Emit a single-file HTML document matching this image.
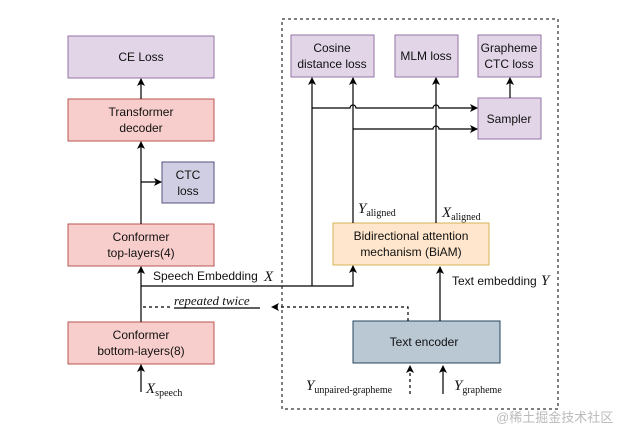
<!DOCTYPE html>
<html><head><meta charset="utf-8"><style>
body{margin:0;background:#fff}
svg{display:block}
text{font-family:"Liberation Sans",sans-serif;font-size:12px;fill:#111}
.m{font-family:"Liberation Serif",serif;font-style:italic;font-size:15px}
.s{font-family:"Liberation Serif",serif;font-style:normal;font-size:10px}
</style></head><body>
<svg width="627" height="438" viewBox="0 0 627 438" xmlns="http://www.w3.org/2000/svg">
<defs><marker id="a" markerWidth="8" markerHeight="8" refX="7" refY="4" orient="auto" markerUnits="userSpaceOnUse"><path d="M0,0 L8,4 L0,8 L2,4 Z" fill="#000"/></marker></defs>
<rect x="282" y="19" width="276" height="390" fill="none" stroke="#000" stroke-dasharray="3,3"/>
<g stroke-width="1">
<rect x="68" y="36" width="146" height="42" fill="#e1d5e7" stroke="#9673a6"/>
<rect x="68" y="99" width="146" height="42" fill="#f8cecc" stroke="#b85450"/>
<rect x="162" y="162" width="52" height="41" fill="#d0cee2" stroke="#56517e"/>
<rect x="68" y="224" width="146" height="42" fill="#f8cecc" stroke="#b85450"/>
<rect x="68" y="322" width="146" height="42" fill="#f8cecc" stroke="#b85450"/>
<rect x="291" y="35" width="83" height="42" fill="#e1d5e7" stroke="#9673a6"/>
<rect x="395" y="35" width="63" height="42" fill="#e1d5e7" stroke="#9673a6"/>
<rect x="478" y="35" width="63" height="42" fill="#e1d5e7" stroke="#9673a6"/>
<rect x="478" y="98" width="63" height="41" fill="#e1d5e7" stroke="#9673a6"/>
<rect x="333" y="223" width="156" height="42" fill="#ffe6cc" stroke="#d6b656"/>
<rect x="353" y="321" width="147" height="42" fill="#bac8d3" stroke="#23445d"/>
</g>
<g fill="none" stroke="#000" stroke-width="1.2">
<path d="M141,99 V79" marker-end="url(#a)"/>
<path d="M141,224 V142" marker-end="url(#a)"/>
<path d="M141,182 H161" marker-end="url(#a)"/>
<path d="M141,322 V267" marker-end="url(#a)"/>
<path d="M141,392 V365" marker-end="url(#a)"/>
<path d="M141,286 H353 V266" marker-end="url(#a)"/>
<path d="M312,286 V78" marker-end="url(#a)"/>
<path d="M353,223 V78" marker-end="url(#a)"/>
<path d="M436,223 V78" marker-end="url(#a)"/>
<path d="M312,108 H350 a3,3 0 0 1 6,0 H433 a3,3 0 0 1 6,0 H477" marker-end="url(#a)"/>
<path d="M353,129 H433 a3,3 0 0 1 6,0 H477" marker-end="url(#a)"/>
<path d="M510,98 V78" marker-end="url(#a)"/>
<path d="M440,321 V267" marker-end="url(#a)"/>
<path d="M443,394 V366" marker-end="url(#a)"/>
<path d="M410,394 V366" stroke-dasharray="3,3" marker-end="url(#a)"/>
<path d="M408,321 V307 H272" stroke-dasharray="3,3" marker-end="url(#a)"/>
<path d="M143,307 H172" stroke-dasharray="3,3"/>
<path d="M174,308 H260"/>
</g>
<g text-anchor="middle">
<text x="141" y="61">CE Loss</text>
<text x="141" y="116">Transformer</text><text x="141" y="132">decoder</text>
<text x="188" y="179">CTC</text><text x="188" y="195">loss</text>
<text x="141" y="241">Conformer</text><text x="141" y="257">top-layers(4)</text>
<text x="141" y="339">Conformer</text><text x="141" y="355">bottom-layers(8)</text>
<text x="332" y="52">Cosine</text><text x="332" y="68">distance loss</text>
<text x="426" y="60">MLM loss</text>
<text x="509" y="52">Grapheme</text><text x="509" y="68">CTC loss</text>
<text x="509" y="123">Sampler</text>
<text x="411" y="240">Bidirectional attention</text><text x="411" y="256">mechanism (BiAM)</text>
<text x="424" y="346">Text encoder</text>
</g>
<text x="153" y="280">Speech Embedding</text><text class="m" x="264" y="281">X</text>
<text class="m" x="174" y="305" style="font-size:13px">repeated twice</text>
<text x="452" y="285">Text embedding</text><text class="m" x="541" y="285">Y</text>
<text class="m" x="358" y="213">Y<tspan class="s" dy="3">aligned</tspan></text>
<text class="m" x="442" y="217">X<tspan class="s" dy="3">aligned</tspan></text>
<text class="m" x="146" y="393">X<tspan class="s" dy="3">speech</tspan></text>
<text class="m" x="306" y="390">Y<tspan class="s" dy="3">unpaired-grapheme</tspan></text>
<text class="m" x="454" y="390">Y<tspan class="s" dy="3">grapheme</tspan></text>
<text x="496" y="422" style="fill:#bbb;font-size:13px;font-family:'Liberation Sans','Noto Sans CJK SC',sans-serif">@稀土掘金技术社区</text>
</svg>
</body></html>
